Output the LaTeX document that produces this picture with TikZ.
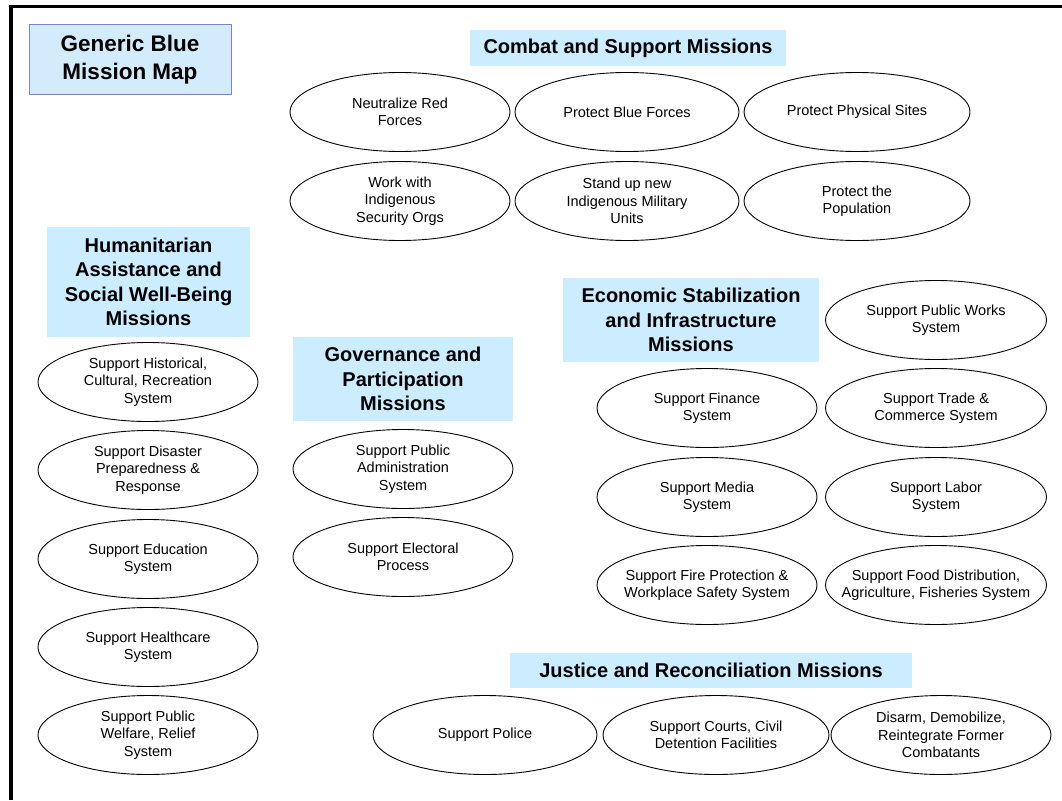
\documentclass[tikz,border=0pt]{standalone}
\usepackage{fontspec}
\setmainfont{Liberation Sans}
\usetikzlibrary{shapes,positioning}
\definecolor{headblue}{RGB}{204,236,255}
\definecolor{mapblue}{RGB}{210,236,252}
\definecolor{mapedge}{RGB}{128,128,204}

\begin{document}
\begin{tikzpicture}[
    x=1pt, y=-1pt,
    mission/.style={ellipse, draw, line width=0.9pt, minimum width=220pt, minimum height=79pt, inner ysep=0pt, inner xsep=-30pt, align=center, font=\fontsize{14.5}{17.5}\selectfont},
    header/.style={rectangle, fill=headblue, inner sep=0pt, align=center, font=\fontsize{20}{24.5}\selectfont\bfseries},
    maptitle/.style={header, draw=mapedge, fill=mapblue, line width=1pt, font=\fontsize{22.5}{28}\selectfont\bfseries}
]
    \useasboundingbox (0,0) rectangle (1062,800);
    % Frame
    \draw[line width=3.5pt] (11,800) |- (1062,6.5);

    % Title
    \node[maptitle, minimum width=202pt, minimum height=69pt] (map) at (130,59.5) {Generic Blue\\Mission Map};

    % Combat and support
    \node[header, minimum width=316pt, minimum height=36pt] (combat) at (628,48) {Combat and Support Missions};
    \node[mission] (red) at (400,112) {Neutralize Red\\Forces};
    \node[mission, minimum width=224pt] (blue) at (627,112) {Protect Blue Forces};
    \node[mission, minimum width=226pt] (sites) at (857,112) {Protect Physical Sites};
    \node[mission] (secorgs) at (400,201) {Work with\\Indigenous\\Security Orgs};
    \node[mission, minimum width=224pt] (military) at (627,201) {Stand up new\\Indigenous Military\\Units};
    \node[mission, minimum width=226pt] (population) at (857,201) {Protect the\\Population};

    % Humanitarian
    \node[header, minimum width=203pt, minimum height=110pt] (human) at (148.5,282) {Humanitarian\\Assistance and\\Social Well-Being\\Missions};
    \node[mission] (culture) at (148,382) {Support Historical,\\Cultural, Recreation\\System};
    \node[mission] (disaster) at (148,470) {Support Disaster\\Preparedness \&\\Response};
    \node[mission] (education) at (148,559) {Support Education\\System};
    \node[mission] (health) at (148,647) {Support Healthcare\\System};
    \node[mission] (welfare) at (148,735) {Support Public\\Welfare, Relief\\System};

    % Governance
    \node[header, minimum width=220pt, minimum height=84pt] (govern) at (403,379) {Governance and\\Participation\\Missions};
    \node[mission] (admin) at (403,469) {Support Public\\Administration\\System};
    \node[mission] (electoral) at (403,557) {Support Electoral\\Process};

    % Economic
    \node[header, minimum width=256pt, minimum height=84pt] (econ) at (691,320) {Economic Stabilization\\and Infrastructure\\Missions};
    \node[mission, minimum width=221pt] (works) at (936,320) {Support Public Works\\System};
    \node[mission] (finance) at (707,408) {Support Finance\\System};
    \node[mission, minimum width=221pt] (trade) at (936,408) {Support Trade \&\\Commerce System};
    \node[mission] (media) at (707,497) {Support Media\\System};
    \node[mission, minimum width=221pt] (labor) at (936,497) {Support Labor\\System};
    \node[mission] (fire) at (707,585) {Support Fire Protection \&\\Workplace Safety System};
    \node[mission, minimum width=221pt] (food) at (936,585) {Support Food Distribution,\\Agriculture, Fisheries System};

    % Justice
    \node[header, minimum width=402pt, minimum height=35pt] (justice) at (711,670.5) {Justice and Reconciliation Missions};
    \node[mission, minimum width=224pt] (police) at (485,735) {Support Police};
    \node[mission, minimum width=226pt] (courts) at (716,735) {Support Courts, Civil\\Detention Facilities};
    \node[mission] (disarm) at (941,735) {Disarm, Demobilize,\\Reintegrate Former\\Combatants};
\end{tikzpicture}
\end{document}
